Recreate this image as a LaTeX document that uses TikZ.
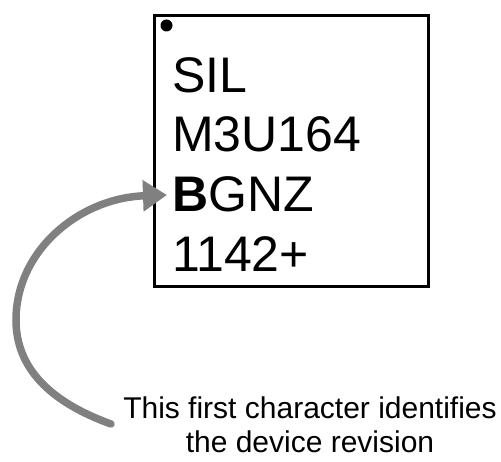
\documentclass[tikz,border=0pt]{standalone}
\usepackage{fontspec}
\setmainfont{Liberation Sans}
\usetikzlibrary{arrows.meta}
\definecolor{arrowgray}{RGB}{128,128,128}
\tikzset{
  chiptext/.style={anchor=base west, inner sep=0pt, font=\fontsize{50}{60}\selectfont},
  captext/.style={anchor=base, inner sep=0pt, font=\fontsize{30}{34}\selectfont},
  pointer/.style={draw=arrowgray, line width=7.5pt, line cap=round, -{Triangle[length=24pt,width=30pt]}, arrowgray}
}
\begin{document}
\begin{tikzpicture}[x=1pt,y=-1pt]
\useasboundingbox (0,0) rectangle (501,462);
\node (chip) [draw, line width=3pt, minimum width=274pt, minimum height=271pt, inner sep=0pt] at (291,151.5) {};
\fill (166.5,25.5) circle (6pt);
\node (l1) [chiptext] at (172,93) {SIL};
\node (l2) [chiptext] at (172,152) {M3U164};
\node (l3) [chiptext] at (172,212) {\textbf{B}GNZ};
\node (l4) [chiptext] at (172,272) {1142+};
\node (c1) [captext] at (310,419) {This first character identifies};
\node (c2) [captext] at (310,453) {the device revision};
\coordinate (tail) at (111,424);
\coordinate (tip) at (167,195);
\draw[pointer] (tail) .. controls (50,402) and (16,368) .. (16,320)
  .. controls (16,250) and (80,198) .. (tip);
\end{tikzpicture}
\end{document}
